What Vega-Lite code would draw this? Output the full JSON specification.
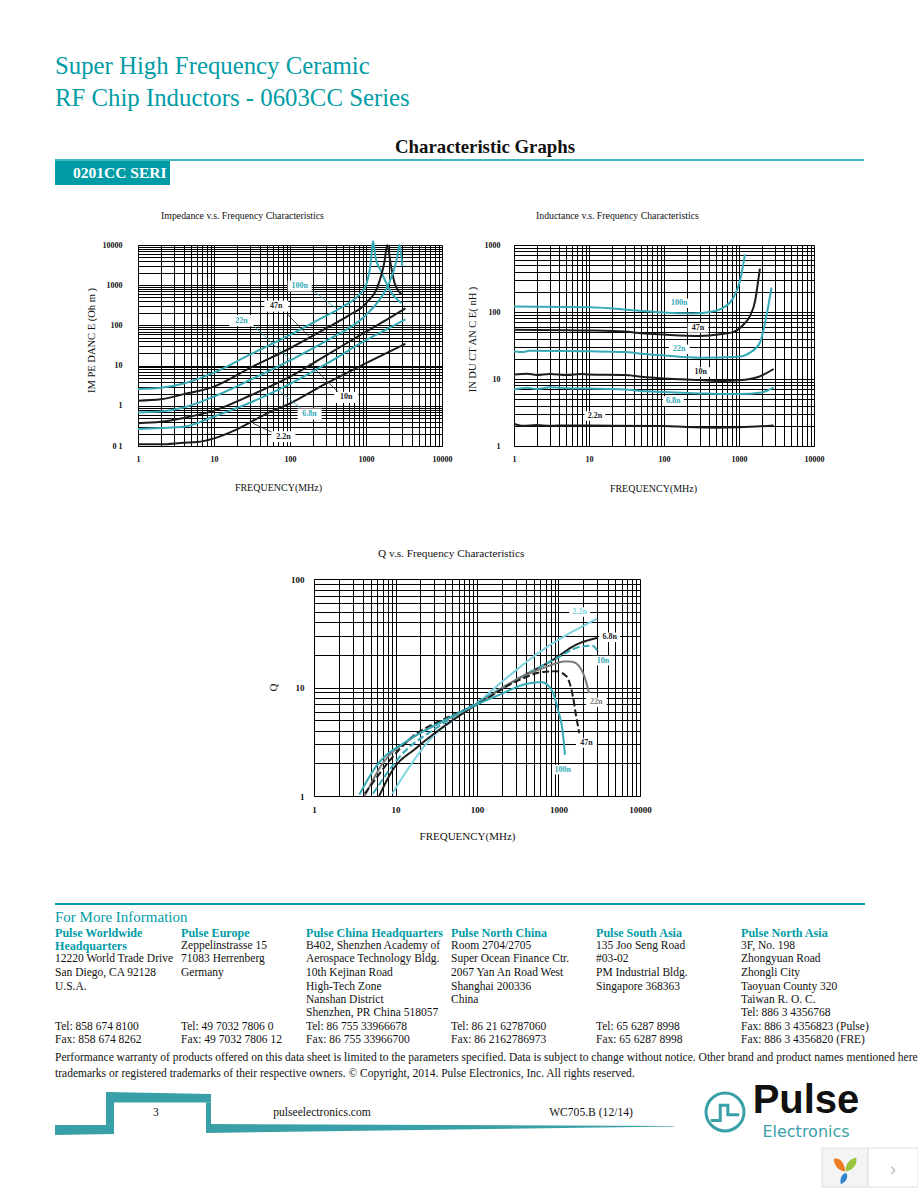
{"$schema":"https://vega.github.io/schema/vega-lite/v6.json","padding":0,"background":"white",
"config":{"view":{"stroke":null,"fill":"transparent"},"axis":{"grid":true,"gridColor":"#000000","gridOpacity":1,"gridWidth":1,"domainColor":"#000000","domainWidth":1,"ticks":false,"labelFont":"Liberation Serif","labelFontSize":8,"labelFontWeight":"bold","labelColor":"#111111","labelOverlap":false,"labelBound":false,"labelFlush":false,"titleFont":"Liberation Serif","titleFontWeight":"normal","titleFontSize":10,"titleColor":"#111111"},"title":{"font":"Liberation Serif","fontWeight":"normal","fontSize":9.8,"color":"#111111","anchor":"start","frame":"group"}},
"datasets":{
"none":[],
"impC":[
{"s":"100n","f":1,"v":2.6},{"s":"100n","f":2,"v":2.8},{"s":"100n","f":4,"v":3.6},{"s":"100n","f":10,"v":6.7},{"s":"100n","f":30,"v":19},{"s":"100n","f":100,"v":58},{"s":"100n","f":300,"v":175},{"s":"100n","f":500,"v":295},{"s":"100n","f":800,"v":560},{"s":"100n","f":1000,"v":1000},{"s":"100n","f":1150,"v":3500},{"s":"100n","f":1235,"v":12500},{"s":"100n","f":1350,"v":4500},{"s":"100n","f":1550,"v":2400},{"s":"100n","f":2050,"v":760},{"s":"100n","f":2917,"v":355},
{"s":"47n","f":1,"v":1.34},{"s":"47n","f":2,"v":1.45},{"s":"47n","f":4,"v":1.95},{"s":"47n","f":10,"v":3.0},{"s":"47n","f":30,"v":8.8},{"s":"47n","f":100,"v":27},{"s":"47n","f":300,"v":85},{"s":"47n","f":600,"v":180},{"s":"47n","f":1000,"v":355},{"s":"47n","f":1500,"v":1230},{"s":"47n","f":1750,"v":3800},{"s":"47n","f":1900,"v":10000},{"s":"47n","f":2140,"v":2900},{"s":"47n","f":2390,"v":1100},{"s":"47n","f":2917,"v":600},
{"s":"22n","f":1,"v":0.68},{"s":"22n","f":2,"v":0.72},{"s":"22n","f":4,"v":0.91},{"s":"22n","f":10,"v":1.7},{"s":"22n","f":30,"v":4.4},{"s":"22n","f":100,"v":13.5},{"s":"22n","f":300,"v":41},{"s":"22n","f":1000,"v":182},{"s":"22n","f":1500,"v":430},{"s":"22n","f":2000,"v":1100},{"s":"22n","f":2500,"v":3860},{"s":"22n","f":2770,"v":10000},{"s":"22n","f":3000,"v":3000},
{"s":"10n","f":1,"v":0.37},{"s":"10n","f":2,"v":0.4},{"s":"10n","f":4,"v":0.5},{"s":"10n","f":10,"v":0.76},{"s":"10n","f":30,"v":1.8},{"s":"10n","f":100,"v":5.3},{"s":"10n","f":300,"v":18},{"s":"10n","f":1000,"v":70},{"s":"10n","f":2000,"v":150},{"s":"10n","f":3300,"v":265},
{"s":"6.8n","f":1,"v":0.265},{"s":"6.8n","f":2,"v":0.28},{"s":"6.8n","f":4,"v":0.3},{"s":"6.8n","f":10,"v":0.54},{"s":"6.8n","f":30,"v":1.2},{"s":"6.8n","f":100,"v":3.5},{"s":"6.8n","f":300,"v":11},{"s":"6.8n","f":1000,"v":43},{"s":"6.8n","f":2000,"v":85},{"s":"6.8n","f":3300,"v":142},
{"s":"2.2n","f":1,"v":0.11},{"s":"2.2n","f":2,"v":0.11},{"s":"2.2n","f":4,"v":0.12},{"s":"2.2n","f":6,"v":0.125},{"s":"2.2n","f":10,"v":0.155},{"s":"2.2n","f":20,"v":0.26},{"s":"2.2n","f":50,"v":0.65},{"s":"2.2n","f":100,"v":1.15},{"s":"2.2n","f":300,"v":3.6},{"s":"2.2n","f":1000,"v":11.5},{"s":"2.2n","f":3300,"v":35}],
"impR":[{"s":"100n","f":210,"v":690,"f2":388,"v2":282},{"s":"47n","f":90,"v":200,"f2":180,"v2":52},{"s":"22n","f":34,"v":93,"f2":100,"v2":14.3},{"s":"10n","f":180,"v":11.4,"f2":447,"v2":2.04},{"s":"6.8n","f":70,"v":2.46,"f2":140,"v2":0.865},{"s":"2.2n","f":32.6,"v":0.366,"f2":70,"v2":0.186}],
"impT":[{"s":"100n","f":134,"v":955},{"s":"47n","f":66,"v":302},{"s":"22n","f":23,"v":131},{"s":"10n","f":550,"v":1.62},{"s":"6.8n","f":181,"v":0.625},{"s":"2.2n","f":82,"v":0.17}],
"indC":[
{"s":"100n","f":1,"v":121},{"s":"100n","f":10,"v":118},{"s":"100n","f":19,"v":114},{"s":"100n","f":39,"v":106},{"s":"100n","f":100,"v":98},{"s":"100n","f":245,"v":95},{"s":"100n","f":410,"v":100},{"s":"100n","f":620,"v":116},{"s":"100n","f":840,"v":163},{"s":"100n","f":1030,"v":290},{"s":"100n","f":1200,"v":725},
{"s":"47n","f":1,"v":54.5},{"s":"47n","f":10,"v":53},{"s":"47n","f":30,"v":51},{"s":"47n","f":50,"v":48},{"s":"47n","f":100,"v":46},{"s":"47n","f":300,"v":44},{"s":"47n","f":600,"v":47},{"s":"47n","f":840,"v":50},{"s":"47n","f":1150,"v":65},{"s":"47n","f":1400,"v":87},{"s":"47n","f":1640,"v":146},{"s":"47n","f":1800,"v":290},{"s":"47n","f":1900,"v":443},
{"s":"22n","f":1,"v":26},{"s":"22n","f":1.3,"v":25.2},{"s":"22n","f":1.6,"v":26.3},{"s":"22n","f":10,"v":25.9},{"s":"22n","f":30,"v":25.3},{"s":"22n","f":50,"v":23.9},{"s":"22n","f":100,"v":22.5},{"s":"22n","f":300,"v":20.8},{"s":"22n","f":1000,"v":21.5},{"s":"22n","f":1400,"v":24.7},{"s":"22n","f":1900,"v":34.8},{"s":"22n","f":2340,"v":92},{"s":"22n","f":2710,"v":231},
{"s":"10n","f":1,"v":11.7},{"s":"10n","f":1.5,"v":12},{"s":"10n","f":2,"v":11.5},{"s":"10n","f":3,"v":11.9},{"s":"10n","f":5,"v":11.5},{"s":"10n","f":8,"v":11.9},{"s":"10n","f":10,"v":11.7},{"s":"10n","f":30,"v":11.5},{"s":"10n","f":50,"v":10.8},{"s":"10n","f":100,"v":10.2},{"s":"10n","f":300,"v":9.67},{"s":"10n","f":600,"v":9.33},{"s":"10n","f":1000,"v":9.55},{"s":"10n","f":1800,"v":10.7},{"s":"10n","f":2900,"v":14.1},
{"s":"6.8n","f":1,"v":7.0},{"s":"6.8n","f":1.5,"v":7.4},{"s":"6.8n","f":2,"v":7.1},{"s":"6.8n","f":3,"v":7.5},{"s":"6.8n","f":5,"v":7.3},{"s":"6.8n","f":10,"v":7.2},{"s":"6.8n","f":30,"v":7.0},{"s":"6.8n","f":50,"v":6.6},{"s":"6.8n","f":100,"v":6.4},{"s":"6.8n","f":300,"v":6.1},{"s":"6.8n","f":600,"v":5.97},{"s":"6.8n","f":1000,"v":5.97},{"s":"6.8n","f":2000,"v":6.3},{"s":"6.8n","f":2900,"v":7.43},
{"s":"2.2n","f":1,"v":2.15},{"s":"2.2n","f":1.3,"v":2.0},{"s":"2.2n","f":2,"v":2.05},{"s":"2.2n","f":3,"v":2.0},{"s":"2.2n","f":5,"v":2.03},{"s":"2.2n","f":10,"v":2.02},{"s":"2.2n","f":100,"v":1.99},{"s":"2.2n","f":200,"v":1.92},{"s":"2.2n","f":500,"v":1.88},{"s":"2.2n","f":1000,"v":1.9},{"s":"2.2n","f":2900,"v":2.03}],
"indT":[{"s":"100n","f":160,"v":135},{"s":"47n","f":284,"v":58},{"s":"22n","f":160,"v":27.7},{"s":"10n","f":308,"v":12.7},{"s":"6.8n","f":133,"v":4.7},{"s":"2.2n","f":12,"v":2.8}],
"qC":[
{"s":"2.2n","f":9.15,"v":1.05},{"s":"2.2n","f":13.6,"v":1.69},{"s":"2.2n","f":28.9,"v":3.55},{"s":"2.2n","f":55.7,"v":5.24},{"s":"2.2n","f":100,"v":7.2},{"s":"2.2n","f":229,"v":12.2},{"s":"2.2n","f":646,"v":22.3},{"s":"2.2n","f":2960,"v":43},
{"s":"6.8n","f":6.3,"v":1},{"s":"6.8n","f":9.3,"v":1.75},{"s":"6.8n","f":18,"v":2.77},{"s":"6.8n","f":42,"v":4.54},{"s":"6.8n","f":98,"v":6.95},{"s":"6.8n","f":304,"v":11.8},{"s":"6.8n","f":855,"v":18},{"s":"6.8n","f":1650,"v":24.8},{"s":"6.8n","f":2960,"v":28.6},
{"s":"10n","f":5.3,"v":1.05},{"s":"10n","f":12.4,"v":2.49},{"s":"10n","f":31.6,"v":4.23},{"s":"10n","f":98,"v":7.2},{"s":"10n","f":304,"v":11.8},{"s":"10n","f":855,"v":17.8},{"s":"10n","f":1820,"v":23.6},{"s":"10n","f":2640,"v":24.3},{"s":"10n","f":2960,"v":22},
{"s":"22n","f":4.2,"v":1},{"s":"22n","f":7,"v":2.01},{"s":"22n","f":14.9,"v":3.3},{"s":"22n","f":42,"v":5.05},{"s":"22n","f":98,"v":6.95},{"s":"22n","f":304,"v":11.8},{"s":"22n","f":646,"v":15.1},{"s":"22n","f":1250,"v":17.4},{"s":"22n","f":1500,"v":17.2},{"s":"22n","f":2000,"v":13.6},{"s":"22n","f":2370,"v":8.9},
{"s":"47n","f":4.2,"v":1.05},{"s":"47n","f":16.4,"v":3.55},{"s":"47n","f":42,"v":5.24},{"s":"47n","f":98,"v":6.95},{"s":"47n","f":304,"v":11.4},{"s":"47n","f":646,"v":13.9},{"s":"47n","f":940,"v":14.1},{"s":"47n","f":1250,"v":12.7},{"s":"47n","f":1500,"v":8.3},{"s":"47n","f":1650,"v":5.4},{"s":"47n","f":1800,"v":3.8},
{"s":"100n","f":3.6,"v":1.03},{"s":"100n","f":5.8,"v":1.88},{"s":"100n","f":13.6,"v":3.19},{"s":"100n","f":28.9,"v":4.39},{"s":"100n","f":98,"v":6.95},{"s":"100n","f":190,"v":8.6},{"s":"100n","f":404,"v":10.8},{"s":"100n","f":613,"v":11.2},{"s":"100n","f":820,"v":9.55},{"s":"100n","f":985,"v":6.25},{"s":"100n","f":1130,"v":3.8},{"s":"100n","f":1200,"v":2.4}],
"qT":[{"s":"2.2n","f":1820,"v":49.6},{"s":"6.8n","f":4240,"v":29},{"s":"10n","f":3510,"v":17.7},{"s":"22n","f":2910,"v":7.3},{"s":"47n","f":2200,"v":3.08},{"s":"100n","f":1130,"v":1.75}],
"addr":[
{"col":0,"line":3,"t":"Headquarters","k":"h"},{"col":0,"line":2,"t":"Pulse Worldwide","k":"h"},{"col":4,"line":2,"t":"Pulse Europe","k":"h"},{"col":7,"line":2,"t":"Pulse China Headquarters","k":"h"},{"col":9,"line":2,"t":"Pulse North China","k":"h"},{"col":11,"line":2,"t":"Pulse South Asia","k":"h"},{"col":14,"line":2,"t":"Pulse North Asia","k":"h"},
{"col":0,"line":4,"t":"12220 World Trade Drive","k":"b"},{"col":0,"line":5,"t":"San Diego, CA 92128","k":"b"},{"col":0,"line":6,"t":"U.S.A.","k":"b"},{"col":0,"line":9,"t":"Tel: 858 674 8100","k":"b"},{"col":0,"line":10,"t":"Fax: 858 674 8262","k":"b"},
{"col":4,"line":3,"t":"Zeppelinstrasse 15","k":"b"},{"col":4,"line":4,"t":"71083 Herrenberg","k":"b"},{"col":4,"line":5,"t":"Germany","k":"b"},{"col":4,"line":9,"t":"Tel: 49 7032 7806 0","k":"b"},{"col":4,"line":10,"t":"Fax: 49 7032 7806 12","k":"b"},
{"col":7,"line":3,"t":"B402, Shenzhen Academy of","k":"b"},{"col":7,"line":4,"t":"Aerospace Technology Bldg.","k":"b"},{"col":7,"line":5,"t":"10th Kejinan Road","k":"b"},{"col":7,"line":6,"t":"High-Tech Zone","k":"b"},{"col":7,"line":7,"t":"Nanshan District","k":"b"},{"col":7,"line":8,"t":"Shenzhen, PR China 518057","k":"b"},{"col":7,"line":9,"t":"Tel: 86 755 33966678","k":"b"},{"col":7,"line":10,"t":"Fax: 86 755 33966700","k":"b"},
{"col":9,"line":3,"t":"Room 2704/2705","k":"b"},{"col":9,"line":4,"t":"Super Ocean Finance Ctr.","k":"b"},{"col":9,"line":5,"t":"2067 Yan An Road West","k":"b"},{"col":9,"line":6,"t":"Shanghai 200336","k":"b"},{"col":9,"line":7,"t":"China","k":"b"},{"col":9,"line":9,"t":"Tel: 86 21 62787060","k":"b"},{"col":9,"line":10,"t":"Fax: 86 2162786973","k":"b"},
{"col":11,"line":3,"t":"135 Joo Seng Road","k":"b"},{"col":11,"line":4,"t":"#03-02","k":"b"},{"col":11,"line":5,"t":"PM Industrial Bldg.","k":"b"},{"col":11,"line":6,"t":"Singapore 368363","k":"b"},{"col":11,"line":9,"t":"Tel: 65 6287 8998","k":"b"},{"col":11,"line":10,"t":"Fax: 65 6287 8998","k":"b"},
{"col":14,"line":3,"t":"3F, No. 198","k":"b"},{"col":14,"line":4,"t":"Zhongyuan Road","k":"b"},{"col":14,"line":5,"t":"Zhongli City","k":"b"},{"col":14,"line":6,"t":"Taoyuan County 320","k":"b"},{"col":14,"line":7,"t":"Taiwan R. O. C.","k":"b"},{"col":14,"line":8,"t":"Tel: 886 3 4356768","k":"b"},{"col":14,"line":9,"t":"Fax: 886 3 4356823 (Pulse)","k":"b"},{"col":14,"line":10,"t":"Fax: 886 3 4356820 (FRE)","k":"b"},
{"col":0,"line":11,"t":"Performance warranty of products offered on this data sheet is limited to the parameters specified. Data is subject to change without notice. Other brand and product names mentioned here","k":"b"},{"col":0,"line":12,"t":"trademarks or registered trademarks of their respective owners. © Copyright, 2014. Pulse Electronics, Inc. All rights reserved.","k":"b"}],
"band":[
{"p":"foot","col":0,"line":20,"line2":26},{"p":"foot","col":2,"line":20,"line2":25},
{"p":"riser","col":1,"line":13,"line2":20},{"p":"riser","col":2,"line":13,"line2":20},
{"p":"top","col":1,"line":13,"line2":15},{"p":"top","col":6,"line":14,"line2":15},
{"p":"drop","col":5,"line":15,"line2":24},{"p":"drop","col":6,"line":15,"line2":19},
{"p":"tail","col":5,"line":19,"line2":24},{"p":"tail","col":12,"line":21,"line2":22}]
},
"spacing":0,"resolve":{"scale":{"color":"independent","strokeDash":"independent"}},
"vconcat":[
{"width":918,"height":211,
"layer":[
{"data":{"values":[{"a":0,"b":0,"t":"Super High Frequency Ceramic"},{"a":0,"b":1,"t":"RF Chip Inductors - 0603CC Series"}]},"mark":{"type":"text","align":"left","baseline":"middle","font":"Liberation Serif","fontSize":24.8,"color":"#009CA6"},"encoding":{"x":{"field":"a","type":"quantitative","axis":null,"scale":{"domain":[0,1,2,3,4],"range":[55,73,170,485,864]}},"y":{"field":"b","type":"quantitative","axis":null,"scale":{"domain":[0,1,2,3,4,5,6],"range":[67,99,147,160,161,173,185]}},"text":{"field":"t"}}},
{"data":{"values":[{"a":3,"b":2,"t":"Characteristic Graphs"}]},"mark":{"type":"text","align":"center","baseline":"middle","font":"Liberation Serif","fontWeight":"bold","fontSize":18.8,"color":"#111111"},"encoding":{"x":{"field":"a","type":"quantitative","axis":null},"y":{"field":"b","type":"quantitative","axis":null},"text":{"field":"t"}}},
{"data":{"values":[{"a":0,"a2":4,"b":3}]},"mark":{"type":"rule","color":"#009CA6","strokeWidth":1.3},"encoding":{"x":{"field":"a","type":"quantitative","axis":null},"x2":{"field":"a2"},"y":{"field":"b","type":"quantitative","axis":null}}},
{"data":{"values":[{"a":0,"a2":2,"b":4,"b2":6}]},"mark":{"type":"rect","color":"#009CA6"},"encoding":{"x":{"field":"a","type":"quantitative","axis":null},"x2":{"field":"a2"},"y":{"field":"b","type":"quantitative","axis":null},"y2":{"field":"b2"}}},
{"data":{"values":[{"a":1,"b":5,"t":"0201CC SERI"}]},"mark":{"type":"text","align":"left","baseline":"middle","font":"Liberation Serif","fontWeight":"bold","fontSize":15.5,"color":"#ffffff"},"encoding":{"x":{"field":"a","type":"quantitative","axis":null},"y":{"field":"b","type":"quantitative","axis":null},"text":{"field":"t"}}}
]},
{"spacing":0,"bounds":"flush","resolve":{"scale":{"color":"independent"}},"hconcat":[
{"width":138,"height":302,"data":{"name":"none"},"mark":"point","encoding":{}},
{"width":304,"height":201,"title":{"text":"Impedance v.s. Frequency Characteristics","dx":23,"offset":16},
"encoding":{"x":{"field":"f","type":"quantitative","scale":{"type":"log","domain":[1,10000],"nice":false},"axis":{"title":"FREQUENCY(MHz)","titleX":140,"titleY":36,"values":[1,2,3,4,5,6,7,8,9,10,20,30,40,50,60,70,80,90,100,200,300,400,500,600,700,800,900,1000,2000,3000,4000,5000,6000,7000,8000,9000,10000],"labelPadding":9,"labelExpr":"indexof([1,10,100,1000,10000],datum.value)>=0?format(datum.value,'d'):''"}},
"y":{"field":"v","type":"quantitative","scale":{"type":"log","domain":[0.1,10000],"nice":false},"axis":{"title":"IM PE DANC  E (Oh  m )","titleX":-42,"titleY":95,"titleFontSize":10.5,"values":[0.1,0.2,0.3,0.4,0.5,0.6,0.7,0.8,0.9,1,2,3,4,5,6,7,8,9,10,20,30,40,50,60,70,80,90,100,200,300,400,500,600,700,800,900,1000,2000,3000,4000,5000,6000,7000,8000,9000,10000],"labelPadding":16,"labelExpr":"datum.value==0.1?'0 1':indexof([1,10,100,1000,10000],datum.value)>=0?format(datum.value,'d'):''"}},
"color":{"field":"s","type":"nominal","legend":null,"scale":{"domain":["100n","47n","22n","10n","6.8n","2.2n"],"range":["#35AAB7","#1c1c1c","#35AAB7","#1c1c1c","#35AAB7","#1c1c1c"]}}},
"layer":[
{"data":{"name":"impC"},"mark":{"type":"line","strokeWidth":2,"interpolate":"monotone","clip":false}},
{"data":{"name":"impR"},"mark":{"type":"rule","strokeWidth":0.8},"encoding":{"x2":{"field":"f2"},"y2":{"field":"v2"}}},
{"data":{"name":"impT"},"mark":{"type":"point","filled":true,"opacity":1,"shape":"M-1.2,-0.55H1.2V0.55H-1.2Z","size":400},"encoding":{"color":{"value":"#ffffff"}}},
{"data":{"name":"impT"},"mark":{"type":"text","font":"Liberation Serif","fontWeight":"bold","fontSize":8},"encoding":{"text":{"field":"s"}}}
]},
{"width":72,"height":1,"data":{"name":"none"},"mark":"point","encoding":{}},
{"width":300,"height":201,"title":{"text":"Inductance v.s. Frequency Characteristics","dx":22,"offset":20},
"encoding":{"x":{"field":"f","type":"quantitative","scale":{"type":"log","domain":[1,10000],"nice":false},"axis":{"title":"FREQUENCY(MHz)","titleX":139,"titleY":37,"values":[1,2,3,4,5,6,7,8,9,10,20,30,40,50,60,70,80,90,100,200,300,400,500,600,700,800,900,1000,2000,3000,4000,5000,6000,7000,8000,9000,10000],"labelPadding":9,"labelExpr":"indexof([1,10,100,1000,10000],datum.value)>=0?format(datum.value,'d'):''"}},
"y":{"field":"v","type":"quantitative","scale":{"type":"log","domain":[1,1000],"nice":false},"axis":{"title":"IN DU CT AN C E( nH )","titleX":-37,"titleY":94,"titleFontSize":10.5,"values":[1,2,3,4,5,6,7,8,9,10,20,30,40,50,60,70,80,90,100,200,300,400,500,600,700,800,900,1000],"labelPadding":14,"labelExpr":"indexof([1,10,100,1000],datum.value)>=0?format(datum.value,'d'):''"}},
"color":{"field":"s","type":"nominal","legend":null,"scale":{"domain":["100n","47n","22n","10n","6.8n","2.2n"],"range":["#35AAB7","#1c1c1c","#35AAB7","#1c1c1c","#35AAB7","#1c1c1c"]}}},
"layer":[
{"data":{"name":"indC"},"mark":{"type":"line","strokeWidth":2,"interpolate":"monotone","clip":false}},
{"data":{"name":"indT"},"mark":{"type":"point","filled":true,"opacity":1,"shape":"M-1.2,-0.55H1.2V0.55H-1.2Z","size":300},"encoding":{"color":{"value":"#ffffff"}}},
{"data":{"name":"indT"},"mark":{"type":"text","font":"Liberation Serif","fontWeight":"bold","fontSize":8},"encoding":{"text":{"field":"s"}}}
]}
]},
{"spacing":0,"bounds":"flush","resolve":{"scale":{"color":"independent"}},"hconcat":[
{"width":314,"height":322,"data":{"name":"none"},"mark":"point","encoding":{}},
{"width":326,"height":217,"title":{"text":"Q v.s. Frequency Characteristics","dx":64,"offset":16,"fontSize":11.3},
"encoding":{"x":{"field":"f","type":"quantitative","scale":{"type":"log","domain":[1,10000],"nice":false},"axis":{"title":"FREQUENCY(MHz)","titleX":153,"titleY":34,"titleFontSize":11,"labelFontSize":9,"values":[1,2,3,4,5,6,7,8,9,10,20,30,40,50,60,70,80,90,100,200,300,400,500,600,700,800,900,1000,2000,3000,4000,5000,6000,7000,8000,9000,10000],"labelPadding":9,"labelExpr":"indexof([1,10,100,1000,10000],datum.value)>=0?format(datum.value,'d'):''"}},
"y":{"field":"v","type":"quantitative","scale":{"type":"log","domain":[1,100],"nice":false},"axis":{"title":"Q","titleX":-36,"titleY":108,"titleFontSize":11,"labelFontSize":9,"values":[1,2,3,4,5,6,7,8,9,10,20,30,40,50,60,70,80,90,100],"labelPadding":10,"labelExpr":"indexof([1,10,100],datum.value)>=0?format(datum.value,'d'):''"}},
"color":{"field":"s","type":"nominal","legend":null,"scale":{"domain":["2.2n","6.8n","10n","22n","47n","100n"],"range":["#7DD3DF","#1c1c1c","#35AAB7","#7a7a7a","#1c1c1c","#35AAB7"]}}},
"layer":[
{"data":{"name":"qC"},"mark":{"type":"line","strokeWidth":2,"interpolate":"monotone","clip":false},"encoding":{"strokeDash":{"field":"s","type":"nominal","legend":null,"scale":{"domain":["2.2n","6.8n","10n","22n","47n","100n"],"range":[[1,0],[1,0],[7,3],[1,0],[7,3],[1,0]]}}}},
{"data":{"name":"qT"},"mark":{"type":"point","filled":true,"opacity":1,"shape":"M-1.2,-0.55H1.2V0.55H-1.2Z","size":300},"encoding":{"color":{"value":"#ffffff"}}},
{"data":{"name":"qT"},"mark":{"type":"text","font":"Liberation Serif","fontWeight":"bold","fontSize":8},"encoding":{"text":{"field":"s"}}}
]}
]},
{"width":918,"height":287,
"encoding":{"x":{"field":"col","type":"quantitative","axis":null,"scale":{"domain":[0,1,2,3,4,5,6,7,8,9,10,11,12,13,14,15,16,17,18,19,20,21,22],"range":[55,106,114,156,181,206,211,306,322,451,591,596,674,725,741,750,806,822,845,865,868,893,918]}},
"y":{"field":"line","type":"quantitative","axis":null,"scale":{"domain":[0,1,2,3,4,5,6,7,8,9,10,11,12,13,14,15,16,17,18,19,20,21,22,23,24,25,26,27,28,29],"range":[3,16,32,45,58,72,86,99,112,126,139,157,173,191,193,201.5,200,211,212,223,224,225,225.5,231,232,233,234,247,269,286]}}},
"layer":[
{"data":{"values":[{"col":0,"col2":19,"line":0}]},"mark":{"type":"rule","color":"#009CA6","strokeWidth":2},"encoding":{"x2":{"field":"col2"}}},
{"data":{"values":[{"col":0,"line":1,"t":"For More Information"}]},"mark":{"type":"text","align":"left","baseline":"middle","font":"Liberation Serif","fontSize":15,"color":"#009CA6"},"encoding":{"text":{"field":"t"}}},
{"data":{"name":"addr"},"transform":[{"filter":"datum.k=='h'"}],"mark":{"type":"text","align":"left","baseline":"middle","font":"Liberation Serif","fontWeight":"bold","fontSize":12.1,"color":"#009CA6"},"encoding":{"text":{"field":"t"}}},
{"data":{"name":"addr"},"transform":[{"filter":"datum.k=='b'"}],"mark":{"type":"text","align":"left","baseline":"middle","font":"Liberation Serif","fontSize":11.5,"color":"#111111"},"encoding":{"text":{"field":"t"}}},
{"data":{"name":"band"},"mark":{"type":"area","color":"#3AA0A8","opacity":1,"interpolate":"linear"},"encoding":{"detail":{"field":"p"},"y2":{"field":"line2"}}},
{"data":{"values":[{"col":3,"line":18,"t":"3"},{"col":8,"line":18,"t":"pulseelectronics.com"},{"col":10,"line":18,"t":"WC705.B (12/14)"}]},"mark":{"type":"text","align":"center","baseline":"middle","font":"Liberation Serif","fontSize":11.6,"color":"#111111"},"encoding":{"text":{"field":"t"}}},
{"data":{"values":[{"col":13,"line":17}]},"mark":{"type":"point","shape":"circle","filled":false,"opacity":1,"strokeWidth":3,"size":1444,"color":"#3AA0A8"}},
{"data":{"values":[{"col":13,"line":17}]},"mark":{"type":"point","shape":"M-0.75,0.45H-0.25V-0.35H0.15V0.15H0.75","filled":false,"opacity":1,"strokeWidth":3,"size":1444,"color":"#3AA0A8"}},
{"data":{"values":[{"col":16,"line":16,"t":"Pulse"}]},"mark":{"type":"text","align":"center","baseline":"middle","font":"Liberation Sans","fontWeight":"bold","fontSize":40,"color":"#111111"},"encoding":{"text":{"field":"t"}}},
{"data":{"values":[{"col":16,"line":23,"t":"Electronics"}]},"mark":{"type":"text","align":"center","baseline":"middle","font":"DejaVu Sans","fontSize":16,"color":"#3AA0A8"},"encoding":{"text":{"field":"t"}}},
{"data":{"values":[{"col":17,"col2":20,"line":27,"line2":29}]},"mark":{"type":"rect","color":"#F4F4F4","stroke":"#DDDDDD","strokeWidth":1},"encoding":{"x2":{"field":"col2"},"y2":{"field":"line2"}}},
{"data":{"values":[{"col":20,"col2":22,"line":27,"line2":29}]},"mark":{"type":"rect","color":"#FFFFFF","stroke":"#DDDDDD","strokeWidth":1},"encoding":{"x2":{"field":"col2"},"y2":{"field":"line2"}}},
{"data":{"values":[{"col":18,"line":28}]},"mark":{"type":"point","filled":true,"opacity":1,"size":784,"color":"#EE7A22","shape":"M-0.8,-0.8C-0.3,-0.9 0,-0.4 0,0.1C-0.4,0.1 -0.8,-0.3 -0.8,-0.8Z"}},
{"data":{"values":[{"col":18,"line":28}]},"mark":{"type":"point","filled":true,"opacity":1,"size":784,"color":"#9BC53D","shape":"M0.8,-0.9C0.9,-0.4 0.6,0 0.05,0.1C0,-0.4 0.3,-0.8 0.8,-0.9Z"}},
{"data":{"values":[{"col":18,"line":28}]},"mark":{"type":"point","filled":true,"opacity":1,"size":784,"color":"#2E86D1","shape":"M0.05,0.2C0.3,0.4 0.1,0.9 -0.3,1C-0.4,0.6 -0.2,0.3 0.05,0.2Z"}},
{"data":{"values":[{"col":21,"line":28,"t":"›"}]},"mark":{"type":"text","align":"center","baseline":"middle","font":"Liberation Sans","fontSize":18,"color":"#BBBBBB"},"encoding":{"text":{"field":"t"}}}
]}
]}
